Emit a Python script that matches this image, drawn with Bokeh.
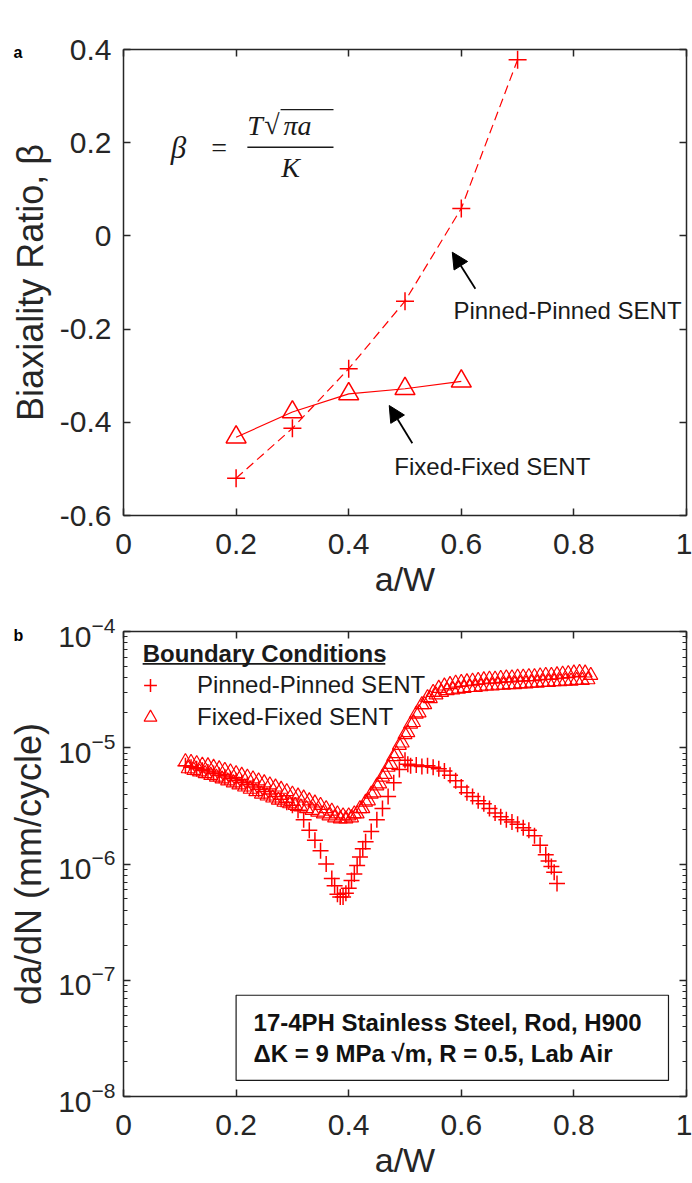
from bokeh.plotting import figure
from bokeh.models import (Range1d, LinearAxis, LogAxis, Legend, LegendItem, Label, Arrow,
                          NormalHead, BoxAnnotation, FixedTicker, LogTicker, ColumnDataSource,
                          CustomJSTickFormatter)
from bokeh.layouts import column
from bokeh.embed import file_html
from bokeh.resources import INLINE

# ---------------- data: panel a ----------------
aw_pinned = [0.2, 0.3, 0.4, 0.5, 0.6, 0.7]
beta_pinned = [-0.52, -0.413, -0.285, -0.14, 0.059, 0.378]
aw_fixed = [0.2, 0.3, 0.4, 0.5, 0.6]
beta_fixed = [-0.432, -0.378, -0.339, -0.328, -0.312]

x_ticks = [0, 0.2, 0.4, 0.6, 0.8, 1]
x_tick_labels = ["0", "0.2", "0.4", "0.6", "0.8", "1"]
beta_ticks = [-0.6, -0.4, -0.2, 0, 0.2, 0.4]
beta_tick_labels = ["-0.6", "-0.4", "-0.2", "0", "0.2", "0.4"]

# ---------------- data: panel b (da/dN in 1e-6 mm/cycle) ----------------
pp_aw = [0.11, 0.12, 0.13, 0.14, 0.15, 0.16, 0.17, 0.18, 0.19, 0.20,
         0.21, 0.22, 0.23, 0.24, 0.25, 0.26, 0.27, 0.28, 0.29, 0.30,
         0.31, 0.32, 0.33, 0.34, 0.35, 0.36, 0.37, 0.375, 0.38, 0.385,
         0.39, 0.395, 0.40, 0.405, 0.41, 0.415, 0.42, 0.425, 0.43, 0.44,
         0.45, 0.46, 0.47, 0.48, 0.49, 0.50, 0.505, 0.51, 0.52, 0.53,
         0.54, 0.55, 0.56, 0.57, 0.58, 0.59, 0.60, 0.61, 0.62, 0.63,
         0.64, 0.65, 0.66, 0.67, 0.68, 0.69, 0.70, 0.71, 0.72, 0.73,
         0.74, 0.75, 0.755, 0.76, 0.765, 0.77]
pp_rate = [7.0, 6.8, 6.6, 6.4, 6.2, 6.0, 5.8, 5.6, 5.4, 5.2,
           5.0, 4.8, 4.6, 4.4, 4.2, 4.0, 3.8, 3.6, 3.4, 3.2,
           2.9, 2.4, 1.95, 1.6, 1.3, 1.0, 0.75, 0.65, 0.55, 0.52,
           0.52, 0.56, 0.62, 0.72, 0.82, 0.97, 1.15, 1.35, 1.55, 1.9,
           2.4, 3.0, 3.8, 5.0, 6.5, 7.8, 7.2, 7.0, 7.1, 6.9,
           7.0, 6.8, 6.6, 6.3, 5.8, 5.2, 4.6, 4.1, 3.8, 3.5,
           3.3, 3.0, 2.75, 2.55, 2.4, 2.3, 2.2, 2.05, 1.95, 1.75,
           1.45, 1.2, 1.06, 0.95, 0.85, 0.68]

ff_aw_upper = [0.11, 0.12, 0.13, 0.14, 0.15, 0.16, 0.17, 0.18, 0.19, 0.20,
               0.21, 0.22, 0.23, 0.24, 0.25, 0.26, 0.27, 0.28, 0.29, 0.30,
               0.31, 0.32, 0.33, 0.34, 0.35, 0.36, 0.37, 0.38, 0.39, 0.40,
               0.41, 0.42, 0.43, 0.44, 0.45, 0.46, 0.47, 0.48, 0.49, 0.50,
               0.51, 0.52, 0.53, 0.54, 0.55, 0.56, 0.57, 0.58, 0.59, 0.60,
               0.61, 0.62, 0.63, 0.64, 0.65, 0.66, 0.67, 0.68, 0.69, 0.70,
               0.71, 0.72, 0.73, 0.74, 0.75, 0.76, 0.77, 0.78, 0.79, 0.80,
               0.81, 0.82, 0.83]
ff_rate_upper = [7.6, 7.5, 7.3, 7.1, 7.0, 6.8, 6.6, 6.4, 6.2, 6.0,
                 5.8, 5.6, 5.4, 5.2, 5.0, 4.8, 4.6, 4.4, 4.2, 4.0,
                 3.85, 3.7, 3.5, 3.35, 3.2, 3.0, 2.85, 2.7, 2.6, 2.6,
                 2.7, 3.0, 3.4, 4.0, 4.7, 5.6, 6.8, 8.4, 10.5, 13.0,
                 16.0, 19.5, 23.5, 27.0, 30.0, 32.5, 34.0, 35.0, 36.0, 36.5,
                 37.0, 37.5, 38.0, 38.5, 39.0, 39.0, 39.5, 40.0, 40.0, 40.5,
                 40.5, 41.0, 41.0, 41.5, 42.0, 42.0, 42.5, 43.0, 43.5, 44.0,
                 44.5, 44.0, 42.0]
ff_aw_lower = [0.115, 0.125, 0.135, 0.145, 0.155, 0.165, 0.175, 0.185, 0.195, 0.205,
               0.215, 0.225, 0.235, 0.245, 0.255, 0.265, 0.275, 0.285, 0.295, 0.305,
               0.315, 0.325, 0.335, 0.345, 0.355, 0.365, 0.375, 0.385, 0.395, 0.405,
               0.415, 0.425, 0.435, 0.445, 0.455, 0.465, 0.475, 0.485, 0.495, 0.505,
               0.515, 0.525, 0.535, 0.545, 0.555, 0.565, 0.575, 0.585, 0.595, 0.605,
               0.615, 0.625, 0.635, 0.645, 0.655, 0.665, 0.675, 0.685, 0.695, 0.705,
               0.715, 0.725, 0.735, 0.745, 0.755, 0.765, 0.775, 0.785, 0.795, 0.805,
               0.815, 0.825]
ff_rate_lower = [6.6, 6.4, 6.2, 6.0, 5.8, 5.6, 5.4, 5.2, 5.0, 4.8,
                 4.6, 4.4, 4.2, 4.0, 3.85, 3.7, 3.55, 3.4, 3.3, 3.2,
                 3.1, 3.0, 2.9, 2.8, 2.7, 2.6, 2.5, 2.45, 2.45, 2.5,
                 2.7, 3.0, 3.5, 4.1, 4.9, 5.9, 7.2, 8.9, 11.0, 13.5,
                 16.5, 20.0, 23.5, 26.5, 28.5, 30.0, 31.0, 31.5, 32.0, 32.5,
                 33.0, 33.0, 33.5, 34.0, 34.0, 34.5, 34.5, 35.0, 35.0, 35.5,
                 35.5, 36.0, 36.0, 36.5, 36.5, 37.0, 37.0, 37.5, 37.5, 38.0,
                 38.0, 38.5]
rate_unit = 1e-6

RED = "#ff0000"
AX = "#262626"
FONT = "Liberation Sans"
SERIF = "Liberation Serif"


def style_axis(ax, labels=True):
    ax.axis_line_color = AX
    ax.axis_line_width = 1.5
    ax.major_tick_line_color = AX
    ax.major_tick_line_width = 1.5
    ax.major_tick_in = 7
    ax.major_tick_out = 0
    ax.minor_tick_line_color = AX
    ax.minor_tick_line_width = 1.2
    ax.minor_tick_in = 4
    ax.minor_tick_out = 0
    ax.major_label_text_font = FONT
    ax.major_label_text_color = AX
    ax.axis_label_text_font = FONT
    ax.axis_label_text_font_style = "normal"
    ax.axis_label_text_color = AX
    ax.axis_label_text_font_size = "34px"
    ax.major_label_text_font_size = "30px"
    if not labels:
        ax.formatter = CustomJSTickFormatter(code="return ''")
        ax.major_label_text_font_size = "10px"
        ax.major_label_standoff = 0


def panel_letter(p, letter, standoff):
    p.title.text = letter
    p.title.text_font = FONT
    p.title.text_font_size = "16px"
    p.title.text_font_style = "bold"
    p.title.text_color = "black"
    p.title.align = "left"
    p.title.offset = -110
    p.title.standoff = standoff


# ================= panel a =================
p1 = figure(width=692, height=600, x_range=Range1d(0, 1), y_range=Range1d(-0.6, 0.4),
            output_backend="svg", toolbar_location=None,
            min_border_left=123, min_border_right=6, min_border_top=49, min_border_bottom=84)
p1.outline_line_color = None
p1.xgrid.visible = False
p1.ygrid.visible = False

xt = dict(zip(x_ticks, x_tick_labels))
bt = dict(zip(beta_ticks, beta_tick_labels))

p1.xaxis.ticker = FixedTicker(ticks=x_ticks)
p1.xaxis.major_label_overrides = xt
p1.xaxis.axis_label = "a/W"
p1.yaxis.ticker = FixedTicker(ticks=beta_ticks)
p1.yaxis.major_label_overrides = bt
p1.yaxis.axis_label = "Biaxiality Ratio, β"
for ax in p1.xaxis + p1.yaxis:
    style_axis(ax)
    ax.minor_tick_line_color = None
p1.yaxis.axis_label_text_font_size = "36px"
p1.xaxis.major_label_standoff = 18
p1.xaxis.axis_label_standoff = 3
p1.yaxis.major_label_standoff = 12
p1.yaxis.axis_label_standoff = 6

top1 = LinearAxis(ticker=FixedTicker(ticks=x_ticks))
right1 = LinearAxis(ticker=FixedTicker(ticks=beta_ticks))
for ax in (top1, right1):
    style_axis(ax, labels=False)
    ax.minor_tick_line_color = None
p1.add_layout(top1, "above")
p1.add_layout(right1, "right")
panel_letter(p1, "a", -23)

src_pp = ColumnDataSource(dict(x=aw_pinned, y=beta_pinned))
src_ff = ColumnDataSource(dict(x=aw_fixed, y=beta_fixed))
p1.line("x", "y", source=src_pp, line_color=RED, line_width=1.2, line_dash="9 5")
p1.scatter("x", "y", source=src_pp, marker="cross", size=18, line_color=RED, line_width=1.5)
p1.line("x", "y", source=src_ff, line_color=RED, line_width=1.2)
p1.scatter("x", "y", source=src_ff, marker="triangle", size=20, line_color=RED,
           fill_color=None, line_width=1.5)

# arrows + annotations
p1.add_layout(Arrow(end=NormalHead(size=16, fill_color="black", line_color="black"),
                    x_start=0.625, y_start=-0.1135, x_end=0.584, y_end=-0.035,
                    line_color="black", line_width=1.8))
p1.add_layout(Arrow(end=NormalHead(size=16, fill_color="black", line_color="black"),
                    x_start=0.513, y_start=-0.445, x_end=0.472, y_end=-0.364,
                    line_color="black", line_width=1.8))
p1.add_layout(Label(x=0.586, y=-0.160, text="Pinned-Pinned SENT", text_font=FONT,
                    text_font_size="24px", text_color="#1a1a1a", text_baseline="middle"))
p1.add_layout(Label(x=0.481, y=-0.495, text="Fixed-Fixed SENT", text_font=FONT,
                    text_font_size="24px", text_color="#1a1a1a", text_baseline="middle"))

# equation  beta = T sqrt(pi a) / K
eq_kw = dict(text_font=SERIF, text_font_size="28px", text_color="#1a1a1a", text_baseline="middle")
p1.add_layout(Label(x=0.084, y=0.19, text="β", text_font_style="italic",
                    **{**eq_kw, "text_font_size": "31px"}))
p1.add_layout(Label(x=0.170, y=0.19, text="=", text_align="center", **eq_kw))
p1.add_layout(Label(x=0.220, y=0.237, text="T", text_font_style="italic", **eq_kw))
p1.add_layout(Label(x=0.250, y=0.240, text="√", **eq_kw))
p1.add_layout(Label(x=0.284, y=0.237, text="πa", text_font_style="italic", **eq_kw))
p1.add_layout(Label(x=0.297, y=0.147, text="K", text_align="center", text_font_style="italic", **eq_kw))
p1.add_layout(Arrow(start=None, end=None, x_start=0.220, y_start=0.19, x_end=0.373, y_end=0.19,
                    line_color="#1a1a1a", line_width=1.5))
p1.add_layout(Arrow(start=None, end=None, x_start=0.279, y_start=0.271, x_end=0.373, y_end=0.271,
                    line_color="#1a1a1a", line_width=1.3))

# ================= panel b =================
p2 = figure(width=692, height=583, x_range=Range1d(0, 1), y_range=Range1d(1e-8, 1e-4),
            y_axis_type="log", output_backend="svg", toolbar_location=None,
            min_border_left=123, min_border_right=6, min_border_top=31, min_border_bottom=87)
p2.outline_line_color = None
p2.xgrid.visible = False
p2.ygrid.visible = False

p2.xaxis.ticker = FixedTicker(ticks=x_ticks)
p2.xaxis.major_label_overrides = xt
p2.xaxis.axis_label = "a/W"
p2.yaxis.ticker = LogTicker(num_minor_ticks=10)
p2.yaxis.axis_label = "da/dN (mm/cycle)"
for ax in p2.xaxis + p2.yaxis:
    style_axis(ax)
p2.yaxis.axis_label_text_font_size = "36px"
p2.xaxis.minor_tick_line_color = None
p2.xaxis.major_label_standoff = 18
p2.xaxis.axis_label_standoff = 3
p2.yaxis.major_label_standoff = 8
p2.yaxis.axis_label_standoff = 6

top2 = LinearAxis(ticker=FixedTicker(ticks=x_ticks))
style_axis(top2, labels=False)
top2.minor_tick_line_color = None
right2 = LogAxis(ticker=LogTicker(num_minor_ticks=10))
style_axis(right2, labels=False)
p2.add_layout(top2, "above")
p2.add_layout(right2, "right")
panel_letter(p2, "b", -25)

src_pp2 = ColumnDataSource(dict(x=pp_aw, y=[v * rate_unit for v in pp_rate]))
src_ff2 = ColumnDataSource(dict(x=ff_aw_upper + ff_aw_lower,
                                y=[v * rate_unit for v in ff_rate_upper + ff_rate_lower]))
r_ff = p2.scatter("x", "y", source=src_ff2, marker="triangle", size=14, line_color=RED,
                  fill_color=None, line_width=1.2)
r_pp = p2.scatter("x", "y", source=src_pp2, marker="cross", size=16, line_color=RED,
                  line_width=1.5)

legend = Legend(items=[LegendItem(label="Pinned-Pinned SENT", renderers=[r_pp]),
                       LegendItem(label="Fixed-Fixed SENT", renderers=[r_ff])],
                location="top_left", padding=0, margin=0, spacing=0,
                glyph_width=34, glyph_height=32, label_standoff=30,
                label_text_font=FONT, label_text_font_size="24px", label_text_color="#1a1a1a",
                border_line_color=None, background_fill_alpha=0)
legend.location = (10, 363)
p2.add_layout(legend)

p2.add_layout(Label(x=0.034, y=10 ** -4.19, text="Boundary Conditions", text_font=FONT,
                    text_font_size="24px", text_font_style="bold", text_color="#1a1a1a",
                    text_baseline="middle"))
p2.add_layout(Arrow(start=None, end=None, x_start=0.034, y_start=10 ** -4.278,
                    x_end=0.465, y_end=10 ** -4.278, line_color="#1a1a1a", line_width=1.8))

p2.add_layout(BoxAnnotation(left=0.2, right=0.968, bottom=10 ** -7.862, top=10 ** -7.129,
                            fill_color="white", fill_alpha=1, line_color="#1a1a1a",
                            line_width=1.2, line_alpha=1))
p2.add_layout(Label(x=0.231, y=10 ** -7.36, text="17-4PH Stainless Steel, Rod, H900",
                    text_font=FONT, text_font_size="24px", text_font_style="bold",
                    text_color="#111111", text_baseline="middle"))
p2.add_layout(Label(x=0.231, y=10 ** -7.63, text="ΔK = 9 MPa √m, R = 0.5, Lab Air",
                    text_font=FONT, text_font_size="24px", text_font_style="bold",
                    text_color="#111111", text_baseline="middle"))

layout = column(p1, p2, spacing=0)
open("out.html", "w").write(file_html(layout, INLINE))
